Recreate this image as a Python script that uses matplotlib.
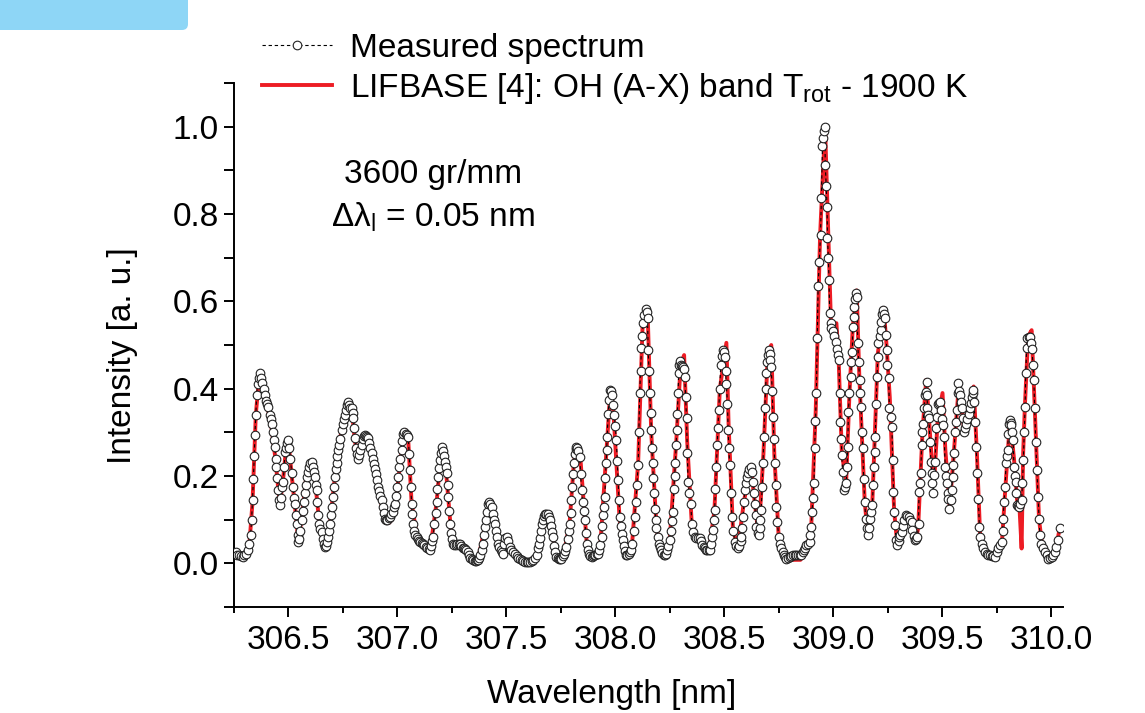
import matplotlib
matplotlib.use("Agg")
import matplotlib.pyplot as plt
import numpy as np
from matplotlib.ticker import MultipleLocator, FormatStrFormatter
from matplotlib.patches import FancyBboxPatch
from matplotlib.transforms import IdentityTransform

plt.rcParams['font.family'] = ['Liberation Sans', 'DejaVu Sans']
plt.rcParams['mathtext.fontset'] = 'custom'
plt.rcParams['mathtext.rm'] = 'Liberation Sans'
plt.rcParams['mathtext.it'] = 'Liberation Sans:italic'

# measured spectrum (wavelength nm, intensity a.u.)
measured = [
    (306.250, 0.022), (306.258, 0.025), (306.266, 0.020), (306.274, 0.018), (306.282, 0.016),
    (306.290, 0.015), (306.298, 0.018), (306.306, 0.022), (306.314, 0.030), (306.320, 0.045),
    (306.326, 0.065), (306.331, 0.100), (306.335, 0.145), (306.339, 0.194), (306.343, 0.245),
    (306.346, 0.294), (306.350, 0.340), (306.354, 0.385), (306.358, 0.410), (306.363, 0.425),
    (306.369, 0.435), (306.375, 0.425), (306.380, 0.412), (306.386, 0.400), (306.391, 0.385),
    (306.397, 0.372), (306.402, 0.365), (306.407, 0.358), (306.413, 0.340), (306.418, 0.330),
    (306.423, 0.320), (306.428, 0.300), (306.433, 0.282), (306.438, 0.267), (306.441, 0.240),
    (306.444, 0.220), (306.448, 0.195), (306.453, 0.167), (306.457, 0.145), (306.461, 0.133),
    (306.466, 0.150), (306.471, 0.175), (306.476, 0.186), (306.480, 0.220), (306.484, 0.255),
    (306.489, 0.265), (306.494, 0.275), (306.499, 0.282), (306.504, 0.265), (306.509, 0.240),
    (306.515, 0.206), (306.520, 0.175), (306.526, 0.150), (306.530, 0.137), (306.534, 0.110),
    (306.538, 0.091), (306.542, 0.065), (306.546, 0.049), (306.550, 0.055), (306.555, 0.075),
    (306.560, 0.099), (306.565, 0.120), (306.570, 0.140), (306.576, 0.160), (306.580, 0.180),
    (306.583, 0.198), (306.588, 0.210), (306.593, 0.220), (306.599, 0.229), (306.606, 0.232),
    (306.612, 0.220), (306.617, 0.210), (306.622, 0.198), (306.626, 0.180), (306.629, 0.167),
    (306.633, 0.140), (306.637, 0.110), (306.642, 0.090), (306.647, 0.078), (306.652, 0.072),
    (306.657, 0.055), (306.662, 0.045), (306.667, 0.037), (306.672, 0.040), (306.677, 0.048),
    (306.683, 0.060), (306.687, 0.075), (306.690, 0.091), (306.695, 0.110), (306.700, 0.130),
    (306.706, 0.152), (306.710, 0.175), (306.713, 0.198), (306.717, 0.215), (306.721, 0.229),
    (306.725, 0.245), (306.728, 0.259), (306.733, 0.270), (306.738, 0.285), (306.744, 0.305),
    (306.749, 0.318), (306.754, 0.330), (306.759, 0.339), (306.764, 0.350), (306.769, 0.362),
    (306.774, 0.370), (306.779, 0.362), (306.784, 0.356), (306.790, 0.355), (306.794, 0.345),
    (306.797, 0.332), (306.801, 0.310), (306.805, 0.286), (306.810, 0.265), (306.815, 0.250),
    (306.820, 0.240), (306.825, 0.248), (306.830, 0.260), (306.836, 0.271), (306.841, 0.285),
    (306.846, 0.292), (306.851, 0.294), (306.856, 0.292), (306.861, 0.289), (306.866, 0.286),
    (306.871, 0.275), (306.876, 0.265), (306.882, 0.252), (306.887, 0.240), (306.892, 0.228),
    (306.897, 0.217), (306.902, 0.205), (306.907, 0.190), (306.912, 0.175), (306.917, 0.165),
    (306.922, 0.155), (306.928, 0.144), (306.933, 0.130), (306.938, 0.115), (306.943, 0.102),
    (306.949, 0.100), (306.954, 0.100), (306.960, 0.103), (306.966, 0.106), (306.972, 0.112),
    (306.978, 0.118), (306.984, 0.128), (306.989, 0.137), (306.994, 0.155), (306.999, 0.175),
    (307.004, 0.198), (307.009, 0.220), (307.014, 0.240), (307.019, 0.259), (307.023, 0.280),
    (307.027, 0.297), (307.032, 0.300), (307.038, 0.296), (307.044, 0.293), (307.050, 0.290),
    (307.054, 0.250), (307.057, 0.213), (307.061, 0.175), (307.065, 0.137), (307.068, 0.112),
    (307.072, 0.091), (307.077, 0.075), (307.082, 0.065), (307.088, 0.060), (307.094, 0.055),
    (307.100, 0.050), (307.106, 0.048), (307.112, 0.046), (307.118, 0.045), (307.124, 0.042),
    (307.130, 0.038), (307.137, 0.034), (307.143, 0.032), (307.149, 0.030), (307.154, 0.040),
    (307.159, 0.050), (307.164, 0.060), (307.170, 0.090), (307.175, 0.115), (307.180, 0.141),
    (307.184, 0.170), (307.187, 0.198), (307.191, 0.218), (307.195, 0.236), (307.199, 0.252),
    (307.203, 0.267), (307.208, 0.258), (307.213, 0.245), (307.218, 0.232), (307.222, 0.220),
    (307.226, 0.206), (307.230, 0.180), (307.233, 0.152), (307.237, 0.120), (307.241, 0.091),
    (307.246, 0.070), (307.251, 0.055), (307.256, 0.045), (307.262, 0.043), (307.268, 0.042),
    (307.274, 0.044), (307.281, 0.045), (307.287, 0.045), (307.293, 0.040), (307.299, 0.036),
    (307.305, 0.034), (307.311, 0.032), (307.317, 0.030), (307.323, 0.025), (307.329, 0.018),
    (307.335, 0.012), (307.341, 0.009), (307.348, 0.007), (307.354, 0.006), (307.360, 0.006),
    (307.366, 0.007), (307.371, 0.007), (307.376, 0.012), (307.381, 0.020), (307.386, 0.030),
    (307.391, 0.045), (307.396, 0.064), (307.401, 0.083), (307.406, 0.100), (307.411, 0.118),
    (307.417, 0.137), (307.422, 0.140), (307.427, 0.135), (307.432, 0.129), (307.437, 0.112),
    (307.442, 0.100), (307.447, 0.091), (307.452, 0.075), (307.457, 0.060), (307.462, 0.045),
    (307.468, 0.038), (307.474, 0.030), (307.480, 0.025), (307.485, 0.022), (307.490, 0.045),
    (307.496, 0.058), (307.502, 0.060), (307.508, 0.052), (307.516, 0.037), (307.523, 0.030),
    (307.531, 0.025), (307.539, 0.022), (307.547, 0.016), (307.555, 0.012), (307.562, 0.009),
    (307.570, 0.007), (307.578, 0.005), (307.586, 0.004), (307.593, 0.004), (307.601, 0.003),
    (307.608, 0.003), (307.616, 0.006), (307.624, 0.008), (307.631, 0.012), (307.639, 0.018),
    (307.645, 0.035), (307.650, 0.045), (307.654, 0.057), (307.659, 0.075), (307.664, 0.090),
    (307.669, 0.099), (307.674, 0.108), (307.679, 0.112), (307.684, 0.114), (307.689, 0.112),
    (307.695, 0.106), (307.700, 0.099), (307.705, 0.085), (307.710, 0.072), (307.715, 0.060),
    (307.720, 0.040), (307.725, 0.025), (307.730, 0.015), (307.736, 0.012), (307.742, 0.011),
    (307.748, 0.011), (307.753, 0.011), (307.759, 0.016), (307.765, 0.022), (307.770, 0.028),
    (307.776, 0.037), (307.781, 0.055), (307.786, 0.075), (307.791, 0.091), (307.795, 0.115),
    (307.799, 0.144), (307.803, 0.175), (307.807, 0.205), (307.811, 0.229), (307.815, 0.250),
    (307.819, 0.262), (307.822, 0.267), (307.826, 0.264), (307.831, 0.258), (307.837, 0.244),
    (307.841, 0.205), (307.845, 0.167), (307.850, 0.140), (307.855, 0.120), (307.860, 0.099),
    (307.864, 0.070), (307.868, 0.045), (307.873, 0.030), (307.879, 0.022), (307.885, 0.017),
    (307.891, 0.015), (307.897, 0.016), (307.903, 0.018), (307.909, 0.020), (307.915, 0.021),
    (307.921, 0.022), (307.926, 0.030), (307.932, 0.042), (307.937, 0.060), (307.941, 0.085),
    (307.945, 0.110), (307.949, 0.130), (307.952, 0.152), (307.955, 0.195), (307.958, 0.230),
    (307.960, 0.259), (307.963, 0.290), (307.967, 0.343), (307.971, 0.375), (307.975, 0.397),
    (307.980, 0.395), (307.985, 0.385), (307.990, 0.362), (307.995, 0.340), (308.000, 0.315),
    (308.005, 0.282), (308.009, 0.235), (308.013, 0.190), (308.017, 0.145), (308.021, 0.106),
    (308.026, 0.085), (308.031, 0.068), (308.036, 0.053), (308.041, 0.040), (308.046, 0.028),
    (308.051, 0.018), (308.056, 0.020), (308.062, 0.022), (308.068, 0.026), (308.074, 0.030),
    (308.079, 0.045), (308.084, 0.075), (308.089, 0.106), (308.094, 0.140), (308.099, 0.180),
    (308.105, 0.225), (308.108, 0.300), (308.112, 0.389), (308.116, 0.440), (308.120, 0.492),
    (308.124, 0.520), (308.128, 0.550), (308.133, 0.568), (308.139, 0.583), (308.144, 0.575),
    (308.148, 0.561), (308.151, 0.489), (308.155, 0.440), (308.158, 0.389), (308.162, 0.345),
    (308.166, 0.305), (308.168, 0.265), (308.171, 0.229), (308.175, 0.195), (308.178, 0.160),
    (308.182, 0.125), (308.186, 0.100), (308.189, 0.080), (308.194, 0.060), (308.199, 0.045),
    (308.204, 0.037), (308.210, 0.030), (308.216, 0.024), (308.222, 0.020), (308.227, 0.018),
    (308.233, 0.022), (308.238, 0.030), (308.244, 0.040), (308.250, 0.053), (308.255, 0.075),
    (308.260, 0.098), (308.265, 0.118), (308.269, 0.170), (308.272, 0.200), (308.276, 0.229),
    (308.279, 0.270), (308.282, 0.305), (308.285, 0.343), (308.288, 0.390), (308.291, 0.435),
    (308.294, 0.455), (308.298, 0.463), (308.302, 0.455), (308.306, 0.452), (308.310, 0.450),
    (308.315, 0.445), (308.319, 0.427), (308.323, 0.380), (308.327, 0.332), (308.331, 0.252),
    (308.334, 0.186), (308.340, 0.160), (308.346, 0.137), (308.352, 0.091), (308.358, 0.072),
    (308.365, 0.060), (308.372, 0.058), (308.380, 0.057), (308.388, 0.057), (308.394, 0.050),
    (308.400, 0.042), (308.406, 0.037), (308.411, 0.034), (308.417, 0.031), (308.423, 0.030),
    (308.428, 0.030), (308.433, 0.030), (308.438, 0.045), (308.443, 0.060), (308.449, 0.076),
    (308.452, 0.100), (308.456, 0.122), (308.460, 0.170), (308.464, 0.221), (308.468, 0.270),
    (308.471, 0.310), (308.475, 0.351), (308.479, 0.400), (308.484, 0.454), (308.489, 0.475),
    (308.495, 0.489), (308.499, 0.485), (308.502, 0.473), (308.506, 0.440), (308.510, 0.410),
    (308.515, 0.366), (308.518, 0.305), (308.521, 0.265), (308.525, 0.225), (308.530, 0.160),
    (308.536, 0.106), (308.542, 0.075), (308.548, 0.049), (308.555, 0.040), (308.563, 0.034),
    (308.569, 0.040), (308.575, 0.050), (308.579, 0.060), (308.583, 0.080), (308.587, 0.106),
    (308.591, 0.140), (308.594, 0.167), (308.599, 0.185), (308.604, 0.198), (308.609, 0.206),
    (308.615, 0.215), (308.622, 0.221), (308.627, 0.210), (308.632, 0.186), (308.636, 0.160),
    (308.640, 0.137), (308.644, 0.110), (308.648, 0.083), (308.653, 0.070), (308.658, 0.064),
    (308.662, 0.080), (308.666, 0.100), (308.670, 0.122), (308.674, 0.175), (308.678, 0.229),
    (308.682, 0.290), (308.686, 0.355), (308.690, 0.400), (308.693, 0.435), (308.697, 0.460),
    (308.700, 0.478), (308.704, 0.489), (308.708, 0.480), (308.712, 0.465), (308.716, 0.450),
    (308.720, 0.395), (308.724, 0.336), (308.728, 0.285), (308.732, 0.229), (308.736, 0.180),
    (308.739, 0.129), (308.744, 0.095), (308.750, 0.060), (308.756, 0.045), (308.762, 0.034),
    (308.768, 0.025), (308.774, 0.018), (308.780, 0.014), (308.785, 0.011), (308.792, 0.012),
    (308.800, 0.014), (308.808, 0.016), (308.816, 0.018), (308.823, 0.018), (308.831, 0.018),
    (308.839, 0.018), (308.846, 0.018), (308.854, 0.018), (308.860, 0.025), (308.866, 0.030),
    (308.872, 0.036), (308.877, 0.041), (308.884, 0.045), (308.892, 0.049), (308.896, 0.065),
    (308.900, 0.083), (308.903, 0.118), (308.907, 0.150), (308.912, 0.183), (308.915, 0.263),
    (308.919, 0.325), (308.923, 0.389), (308.927, 0.515), (308.931, 0.634), (308.936, 0.690),
    (308.942, 0.752), (308.946, 0.836), (308.951, 0.955), (308.955, 0.975), (308.958, 0.990),
    (308.961, 1.000), (308.964, 0.913), (308.968, 0.865), (308.972, 0.817), (308.974, 0.745),
    (308.978, 0.700), (308.981, 0.649), (308.984, 0.573), (308.988, 0.550), (308.992, 0.538),
    (308.998, 0.531), (309.004, 0.520), (309.011, 0.508), (309.016, 0.490), (309.022, 0.477),
    (309.026, 0.466), (309.030, 0.389), (309.033, 0.324), (309.037, 0.285), (309.040, 0.248),
    (309.043, 0.209), (309.049, 0.167), (309.055, 0.175), (309.060, 0.183), (309.064, 0.220),
    (309.067, 0.267), (309.070, 0.347), (309.075, 0.390), (309.080, 0.427), (309.084, 0.460),
    (309.088, 0.485), (309.090, 0.542), (309.094, 0.565), (309.098, 0.588), (309.102, 0.605),
    (309.106, 0.619), (309.110, 0.610), (309.113, 0.504), (309.117, 0.460), (309.121, 0.420),
    (309.125, 0.390), (309.128, 0.359), (309.132, 0.300), (309.136, 0.263), (309.140, 0.194),
    (309.145, 0.141), (309.149, 0.102), (309.155, 0.080), (309.160, 0.064), (309.165, 0.080),
    (309.171, 0.102), (309.176, 0.118), (309.180, 0.133), (309.184, 0.180), (309.188, 0.220),
    (309.190, 0.255), (309.193, 0.290), (309.198, 0.366), (309.201, 0.426), (309.205, 0.473),
    (309.208, 0.504), (309.213, 0.520), (309.218, 0.534), (309.220, 0.553), (309.224, 0.570),
    (309.228, 0.580), (309.234, 0.572), (309.240, 0.561), (309.243, 0.523), (309.246, 0.489),
    (309.249, 0.455), (309.255, 0.424), (309.258, 0.355), (309.264, 0.335), (309.270, 0.313),
    (309.273, 0.237), (309.277, 0.164), (309.280, 0.118), (309.285, 0.087), (309.288, 0.053),
    (309.295, 0.041), (309.300, 0.050), (309.303, 0.060), (309.309, 0.066), (309.315, 0.072),
    (309.320, 0.085), (309.326, 0.099), (309.334, 0.110), (309.341, 0.108), (309.349, 0.106),
    (309.355, 0.100), (309.361, 0.095), (309.364, 0.076), (309.370, 0.062), (309.376, 0.053),
    (309.382, 0.055), (309.387, 0.060), (309.392, 0.091), (309.394, 0.164), (309.398, 0.185),
    (309.402, 0.206), (309.406, 0.271), (309.410, 0.300), (309.413, 0.320), (309.417, 0.355),
    (309.422, 0.385), (309.426, 0.393), (309.429, 0.416), (309.431, 0.385), (309.433, 0.355),
    (309.437, 0.340), (309.440, 0.332), (309.444, 0.278), (309.449, 0.232), (309.452, 0.206),
    (309.456, 0.183), (309.460, 0.160), (309.464, 0.202), (309.468, 0.232), (309.473, 0.309),
    (309.476, 0.336), (309.480, 0.366), (309.486, 0.368), (309.491, 0.370), (309.495, 0.351),
    (309.500, 0.330), (309.506, 0.317), (309.510, 0.290), (309.514, 0.221), (309.518, 0.200),
    (309.521, 0.183), (309.525, 0.160), (309.529, 0.148), (309.534, 0.125), (309.539, 0.145),
    (309.544, 0.167), (309.548, 0.198), (309.551, 0.225), (309.555, 0.252), (309.559, 0.301),
    (309.564, 0.324), (309.568, 0.351), (309.572, 0.389), (309.575, 0.412), (309.579, 0.395),
    (309.583, 0.385), (309.587, 0.370), (309.591, 0.355), (309.595, 0.332), (309.602, 0.301),
    (309.606, 0.310), (309.611, 0.320), (309.616, 0.330), (309.622, 0.343), (309.628, 0.355),
    (309.632, 0.368), (309.636, 0.381), (309.640, 0.390), (309.644, 0.397), (309.647, 0.370),
    (309.651, 0.324), (309.656, 0.267), (309.662, 0.206), (309.667, 0.148), (309.671, 0.083),
    (309.674, 0.060), (309.681, 0.045), (309.689, 0.035), (309.697, 0.026), (309.705, 0.022),
    (309.712, 0.020), (309.720, 0.018), (309.728, 0.017), (309.735, 0.016), (309.743, 0.015),
    (309.750, 0.025), (309.758, 0.034), (309.766, 0.042), (309.774, 0.049), (309.778, 0.075),
    (309.781, 0.102), (309.784, 0.141), (309.790, 0.175), (309.793, 0.229), (309.797, 0.245),
    (309.801, 0.259), (309.804, 0.297), (309.808, 0.320), (309.811, 0.328), (309.815, 0.322),
    (309.818, 0.317), (309.822, 0.300), (309.826, 0.282), (309.830, 0.221), (309.834, 0.200),
    (309.837, 0.186), (309.841, 0.160), (309.844, 0.133), (309.849, 0.131), (309.853, 0.129),
    (309.858, 0.135), (309.865, 0.144), (309.869, 0.183), (309.873, 0.236), (309.877, 0.301),
    (309.881, 0.359), (309.884, 0.435), (309.888, 0.492), (309.891, 0.517), (309.897, 0.518),
    (309.904, 0.519), (309.908, 0.505), (309.913, 0.490), (309.917, 0.455), (309.921, 0.420),
    (309.925, 0.355), (309.930, 0.278), (309.935, 0.213), (309.941, 0.152), (309.945, 0.102),
    (309.949, 0.064), (309.956, 0.045), (309.964, 0.035), (309.972, 0.026), (309.980, 0.018),
    (309.987, 0.011), (309.995, 0.013), (310.003, 0.015), (310.010, 0.018), (310.018, 0.025),
    (310.025, 0.037), (310.033, 0.053), (310.040, 0.080),
]

# LIFBASE simulation, 1900 K
lifbase = [
    (306.250, 0.020), (306.300, 0.018), (306.320, 0.040), (306.335, 0.140), (306.350, 0.340),
    (306.365, 0.425), (306.372, 0.430), (306.385, 0.400), (306.400, 0.365), (306.420, 0.320),
    (306.440, 0.240), (306.455, 0.160), (306.462, 0.140), (306.475, 0.190), (306.490, 0.270),
    (306.500, 0.280), (306.515, 0.200), (306.530, 0.130), (306.545, 0.050), (306.560, 0.100),
    (306.580, 0.190), (306.600, 0.230), (306.607, 0.235), (306.620, 0.200), (306.640, 0.100),
    (306.668, 0.035), (306.690, 0.090), (306.720, 0.230), (306.745, 0.310), (306.775, 0.370),
    (306.790, 0.355), (306.805, 0.280), (306.820, 0.240), (306.850, 0.295), (306.870, 0.280),
    (306.910, 0.180), (306.940, 0.100), (306.960, 0.092), (306.975, 0.100), (306.990, 0.130),
    (307.020, 0.260), (307.038, 0.305), (307.050, 0.280), (307.065, 0.140), (307.090, 0.060),
    (307.150, 0.030), (307.180, 0.140), (307.203, 0.270), (307.225, 0.200), (307.245, 0.080),
    (307.260, 0.042), (307.290, 0.043), (307.320, 0.028), (307.350, 0.007), (307.370, 0.008),
    (307.400, 0.080), (307.420, 0.140), (307.435, 0.125), (307.460, 0.045), (307.485, 0.020),
    (307.500, 0.060), (307.515, 0.037), (307.570, 0.007), (307.610, 0.003), (307.640, 0.018),
    (307.685, 0.115), (307.700, 0.100), (307.730, 0.015), (307.760, 0.012), (307.790, 0.090),
    (307.810, 0.230), (307.823, 0.270), (307.840, 0.240), (307.870, 0.040), (307.900, 0.015),
    (307.930, 0.030), (307.960, 0.260), (307.978, 0.400), (307.990, 0.360), (308.020, 0.100),
    (308.050, 0.018), (308.075, 0.030), (308.105, 0.230), (308.125, 0.540), (308.140, 0.585),
    (308.150, 0.550), (308.165, 0.300), (308.190, 0.075), (308.225, 0.018), (308.250, 0.053),
    (308.280, 0.280), (308.300, 0.455), (308.316, 0.477), (308.330, 0.280), (308.350, 0.100),
    (308.370, 0.058), (308.390, 0.055), (308.430, 0.028), (308.455, 0.120), (308.480, 0.400),
    (308.510, 0.505), (308.520, 0.320), (308.540, 0.080), (308.563, 0.034), (308.590, 0.140),
    (308.622, 0.225), (308.640, 0.140), (308.658, 0.062), (308.680, 0.250), (308.700, 0.480),
    (308.716, 0.500), (308.730, 0.250), (308.750, 0.060), (308.785, 0.010), (308.800, 0.008),
    (308.850, 0.008), (308.880, 0.030), (308.900, 0.090), (308.920, 0.350), (308.940, 0.750),
    (308.963, 1.000), (308.975, 0.800), (308.990, 0.550), (309.000, 0.545), (309.015, 0.550),
    (309.025, 0.470), (309.040, 0.250), (309.060, 0.190), (309.075, 0.390), (309.090, 0.540),
    (309.108, 0.625), (309.120, 0.430), (309.145, 0.140), (309.160, 0.060), (309.180, 0.140),
    (309.205, 0.480), (309.232, 0.585), (309.245, 0.500), (309.260, 0.380), (309.280, 0.120),
    (309.295, 0.040), (309.320, 0.080), (309.340, 0.110), (309.360, 0.095), (309.378, 0.050),
    (309.390, 0.080), (309.410, 0.300), (309.427, 0.420), (309.440, 0.330), (309.455, 0.220),
    (309.465, 0.200), (309.480, 0.330), (309.502, 0.390), (309.515, 0.260), (309.535, 0.130),
    (309.555, 0.260), (309.577, 0.410), (309.590, 0.360), (309.602, 0.300), (309.620, 0.350),
    (309.645, 0.405), (309.660, 0.250), (309.675, 0.060), (309.700, 0.025), (309.745, 0.015),
    (309.775, 0.050), (309.790, 0.170), (309.812, 0.330), (309.830, 0.240), (309.845, 0.140),
    (309.855, 0.130), (309.865, 0.034), (309.872, 0.250), (309.880, 0.360), (309.895, 0.520),
    (309.911, 0.534), (309.925, 0.360), (309.945, 0.100), (309.960, 0.040), (309.990, 0.011),
    (310.020, 0.030), (310.040, 0.080),
]

meas_wl, meas_int = np.array(measured).T
lif_wl, lif_int = np.array(lifbase).T

fig = plt.figure(figsize=(11.45, 7.13), dpi=100)
ax = fig.add_axes([234/1145, 1-607/713, (1063-234)/1145, (607-83)/713])

# light blue tab in the top-left corner
fig.add_artist(FancyBboxPatch((-10, 683), 198, 40, boxstyle="round,pad=0,rounding_size=6",
                              transform=IdentityTransform(), facecolor="#8ed6f6",
                              edgecolor="none"))

ax.plot(lif_wl, lif_int, color="#ed1c24", lw=2.8, zorder=2,
        label="LIFBASE [4]: OH (A-X) band T$_{\\mathrm{rot}}$ - 1900 K")
ax.plot(meas_wl, meas_int, color="black", lw=0.8, ls=(0, (3, 2.5)), marker="o",
        ms=6.2, mfc="white", mec="#222222", mew=0.8, zorder=3, label="Measured spectrum")

ax.set_xlim(306.25, 310.055)
ax.set_ylim(-0.1, 1.1)
ax.xaxis.set_major_locator(MultipleLocator(0.5))
ax.xaxis.set_minor_locator(MultipleLocator(0.25))
ax.yaxis.set_major_locator(MultipleLocator(0.2))
ax.yaxis.set_minor_locator(MultipleLocator(0.1))
ax.xaxis.set_major_formatter(FormatStrFormatter('%.1f'))
ax.yaxis.set_major_formatter(FormatStrFormatter('%.1f'))

for s in ['top', 'right']:
    ax.spines[s].set_visible(False)
for s in ['left', 'bottom']:
    ax.spines[s].set_linewidth(1.4)
ax.tick_params(which='major', direction='out', length=7, width=1.4, labelsize=24, pad=4)
ax.tick_params(axis='x', which='major', pad=6)
ax.tick_params(which='minor', direction='out', length=4, width=1.4)
ax.tick_params(axis='y', which='minor', length=7)

ax.set_xlabel("Wavelength [nm]", fontsize=24)
ax.xaxis.set_label_coords((612-234)/829, -0.137)
ax.set_ylabel("Intensity [a. u.]", fontsize=24)
ax.yaxis.set_label_coords((138-234)/829, 0.479)

fig.text(433/1145, 1-183/713, "3600 gr/mm", fontsize=24, ha='center', va='baseline')
fig.text(433/1145, 1-227/713, "Δλ$_\\mathrm{l}$ = 0.05 nm", fontsize=24, ha='center', va='baseline')

h, l = ax.get_legend_handles_labels()
fig.legend(h[::-1], l[::-1], loc='upper left', bbox_to_anchor=(262/1145, 1-33/713),
           frameon=False, fontsize=24, numpoints=1, handlelength=2.1, handletextpad=0.55,
           labelspacing=0.2, borderpad=0, borderaxespad=0)

fig.savefig("out.png", dpi=100)
